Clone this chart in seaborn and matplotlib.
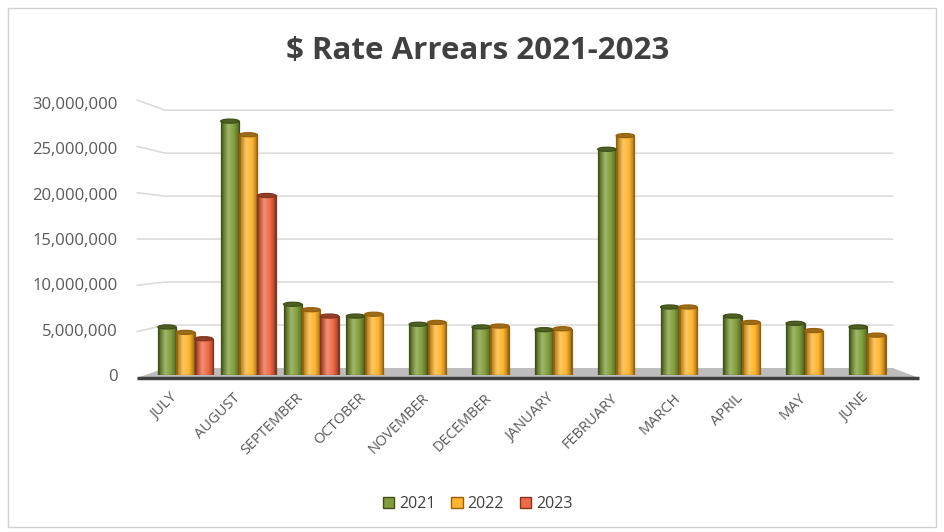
import numpy as np
import pandas as pd
import seaborn as sns
import matplotlib.pyplot as plt
import matplotlib.transforms as mtransforms
from matplotlib.patches import Rectangle, Polygon, Ellipse
from matplotlib.colors import LinearSegmentedColormap, to_rgb
from matplotlib.ticker import FuncFormatter

months = ["JULY", "AUGUST", "SEPTEMBER", "OCTOBER", "NOVEMBER", "DECEMBER",
          "JANUARY", "FEBRUARY", "MARCH", "APRIL", "MAY", "JUNE"]
years = ["2021", "2022", "2023"]
v2021 = [5.3e6, 28.0e6, 7.8e6, 6.5e6, 5.6e6, 5.3e6, 5.0e6, 24.9e6, 7.5e6, 6.5e6, 5.7e6, 5.3e6]
v2022 = [4.7e6, 26.5e6, 7.2e6, 6.7e6, 5.8e6, 5.4e6, 5.1e6, 26.4e6, 7.5e6, 5.8e6, 4.9e6, 4.4e6]
v2023 = [4.0e6, 19.8e6, 6.5e6, np.nan, np.nan, np.nan, np.nan, np.nan, np.nan, np.nan, np.nan, np.nan]
yticks = [0, 5e6, 10e6, 15e6, 20e6, 25e6, 30e6]

df = pd.DataFrame({
    "month": months * 3,
    "year": [years[0]] * 12 + [years[1]] * 12 + [years[2]] * 12,
    "value": v2021 + v2022 + v2023,
})

colors = {"2021": "#819E3A", "2022": "#FFB52E", "2023": "#F06A45"}
edges = {"2021": "#3E4F17", "2022": "#9A5E08", "2023": "#86331E"}

sns.set_theme(style="white")
plt.rcParams['font.family'] = ['Open Sans', 'DejaVu Sans']

fig = plt.figure(figsize=(9.44, 5.32), dpi=100)
ax = fig.add_axes([0.1631, 0.2951, 0.7987, 0.5113])

sns.barplot(data=df, x="month", y="value", hue="year", palette=colors,
            order=months, hue_order=years, width=0.876, ax=ax, zorder=3,
            saturation=1)

ax.set_ylim(0, 30e6)
ax.set_xlim(-0.5, 11.5)
ax.set_autoscale_on(False)

cap_h = 0.45e6
for cont, yr in zip(ax.containers, years):
    base = np.array(to_rgb(colors[yr]))
    cmap = LinearSegmentedColormap.from_list(
        "cyl_" + yr,
        [(0.0, base * 0.45), (0.12, base * 0.75), (0.38, np.clip(base * 0.75 + 0.25, 0, 1)),
         (0.7, base), (0.9, base * 0.75), (1.0, base * 0.5)])
    grad = np.linspace(0, 1, 64).reshape(1, -1)
    for bar in cont:
        h = bar.get_height()
        if not np.isfinite(h) or h <= 0:
            continue
        x0, w = bar.get_x(), bar.get_width()
        bar.set_edgecolor("none")
        im = ax.imshow(grad, extent=[x0, x0 + w, 0, h], aspect="auto", cmap=cmap,
                       zorder=3.5, interpolation="bilinear")
        im.set_clip_path(bar)
        ax.add_patch(Rectangle((x0, 0), w, h, fill=False, edgecolor=edges[yr],
                               linewidth=0.9, zorder=4))
        ax.add_patch(Ellipse((x0 + w / 2, h), w, cap_h, facecolor=base * 0.6,
                             edgecolor=edges[yr], linewidth=0.9, zorder=4.5))

ax.set_yticks(yticks)
ax.yaxis.set_major_formatter(FuncFormatter(lambda v, p: f"{int(v):,}"))
ax.grid(False)
# perspective gridlines: short slanted side-wall segment, then back wall
gtrans = mtransforms.blended_transform_factory(ax.transAxes, ax.transData)
for v in yticks[1:]:
    vm = v / 1e6
    y_front = (-0.33 + 1.022 * vm) * 1e6
    y_back = (0.77 + 0.948 * vm) * 1e6
    ax.plot([-0.0225, 0.0146, 0.98], [y_front, y_back, y_back], transform=gtrans,
            color="#D9D9D9", linewidth=1.1, zorder=0.5, clip_on=False)
for s in ["top", "right", "left", "bottom"]:
    ax.spines[s].set_visible(False)
ax.set_xlabel("")
ax.set_ylabel("")
ax.tick_params(axis="y", labelsize=12, colors="#595959", length=0, pad=26)
ax.tick_params(axis="x", labelsize=10.5, colors="#595959", length=0, pad=15)
shift = mtransforms.ScaledTranslation(-10 / 100, 0, fig.dpi_scale_trans)
for lbl in ax.get_xticklabels():
    lbl.set_rotation(45)
    lbl.set_ha("right")
    lbl.set_va("center")
    lbl.set_rotation_mode("anchor")
    lbl.set_transform(lbl.get_transform() + shift)

# floor (perspective plane under the bars)
floor = Polygon([(-0.0225, -0.011), (1.0146, -0.011), (0.98, 0.0257), (0.0146, 0.0257)],
                closed=True, transform=ax.transAxes, facecolor="#BDBDBD",
                edgecolor="none", zorder=1, clip_on=False)
ax.add_patch(floor)
ax.plot([-0.0225, 1.0146], [-0.011, -0.011], transform=ax.transAxes, color="#404040",
        linewidth=2.5, clip_on=False, zorder=2, solid_capstyle="butt")

ax.legend_.remove()
handles = [Rectangle((0, 0), 1, 1, facecolor=colors[y], edgecolor=edges[y]) for y in years]
fig.legend(handles, years, loc="center", bbox_to_anchor=(0.506, 0.053), ncol=3,
           frameon=False, fontsize=11.5, handlelength=0.7, handleheight=0.7,
           handletextpad=0.3, columnspacing=1.0, labelcolor="#404040")

fig.text(0.506, 0.905, "$ Rate Arrears 2021-2023", ha="center", va="center",
         fontsize=22.5, fontweight="bold", color="#404040")

fig.patches.append(Rectangle((0.008, 0.01), 0.984, 0.975, transform=fig.transFigure,
                             fill=False, edgecolor="#D0D0D0", linewidth=1))

fig.savefig("out.png", dpi=100)
